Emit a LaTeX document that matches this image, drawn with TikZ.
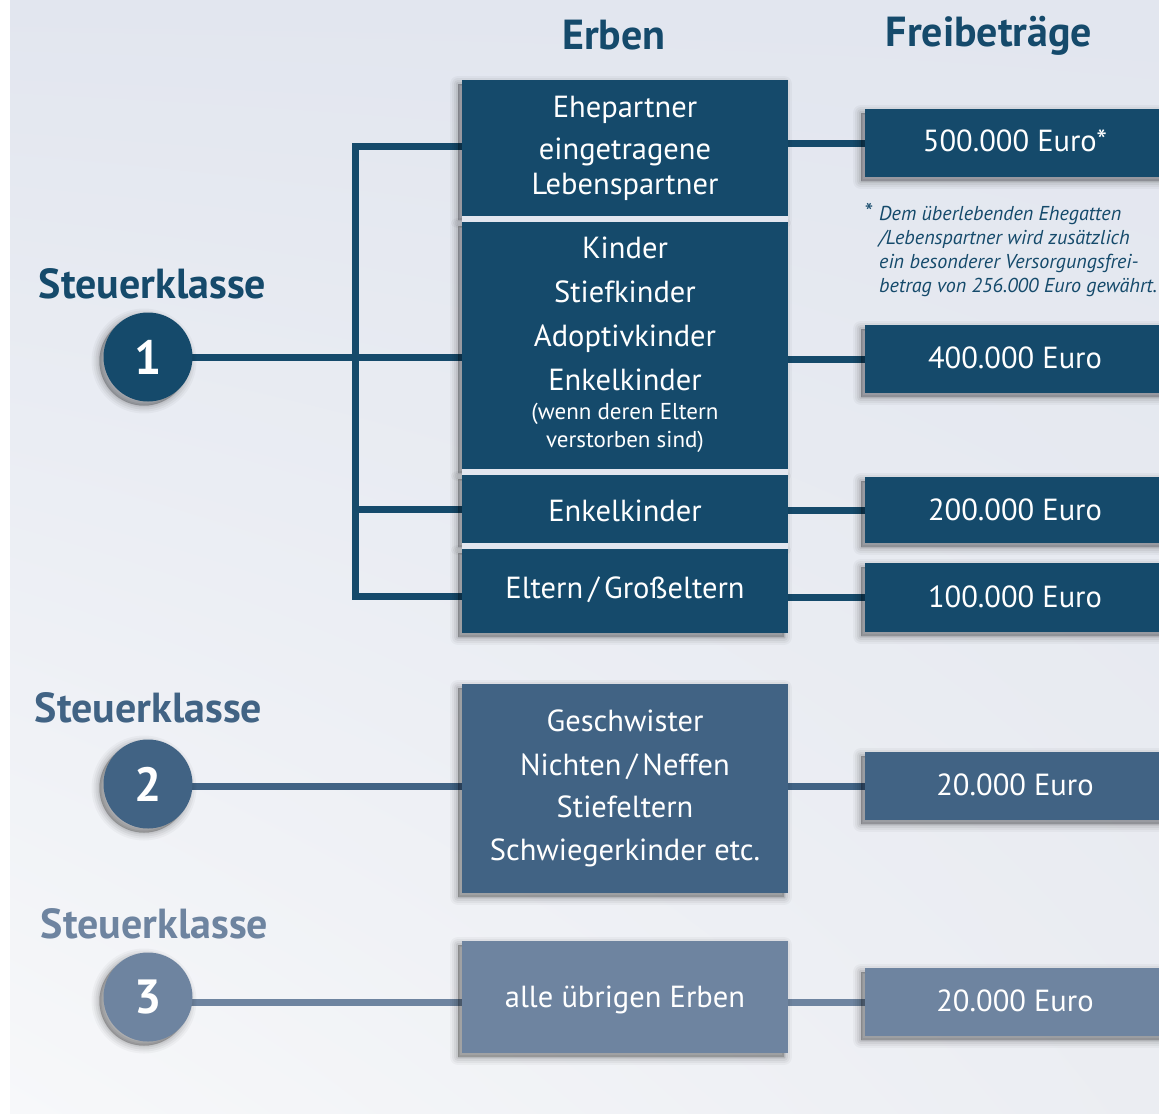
\documentclass[tikz,border=0pt]{standalone}
\usepackage{fontspec}
\setmainfont{PT Sans}
\usetikzlibrary{calc,shadings,backgrounds}
\definecolor{cA}{HTML}{154A6B}
\definecolor{cB}{HTML}{416384}
\definecolor{cC}{HTML}{6E84A0}
\definecolor{bgT}{HTML}{E2E6EF}
\definecolor{bgL}{HTML}{F7F8FA}
\definecolor{bgR}{HTML}{EBEDF2}
\pgfdeclarelayer{bottom}
\pgfsetlayers{bottom,background,main}
\begin{document}
\begin{tikzpicture}[x=1pt,y=-1pt,
  shlayer/.style n args={2}{preaction={fill=black,fill opacity=#1,draw=black,draw opacity=#1,line width=#2,line join=round,transform canvas={shift={(-4pt,-4pt)}}}},
  shad/.style={shlayer={.03}{16pt},shlayer={.04}{12pt},shlayer={.05}{8pt},shlayer={.06}{4pt},shlayer={.08}{1pt}},
  conn/.style={line width=7pt,draw=#1},
  erbe/.style={fill=#1,text=white,inner sep=0pt,align=center,minimum width=326pt,text depth=0pt,font=\fontsize{30.5}{44}\selectfont,shad},
  frei/.style={fill=#1,text=white,inner sep=0pt,minimum width=300pt,minimum height=68pt,text depth=0pt,font=\fontsize{30.5}{33}\selectfont,shad},
  kreis/.style={circle,fill=#1,text=white,minimum size=89pt,inner sep=0pt,font=\bfseries\fontsize{48}{50}\selectfont,shad},
  klasse/.style={text=#1,font=\bfseries\fontsize{42}{46}\selectfont,inner sep=0pt},
  kopf/.style={text=cA,font=\bfseries\fontsize{42}{46}\selectfont,inner sep=0pt}
]
\useasboundingbox (0,0) rectangle (1159,1114);
\begin{pgfonlayer}{bottom}
\fill[white] (0,0) rectangle (1159,1114);
\shade[upper left=bgT,upper right=bgT,lower left=bgL,lower right=bgR] (10,0) rectangle (1159,1113);
\end{pgfonlayer}

% headings
\node[kopf] (h1) at (614,35) {Erben};
\node[kopf] (h2) at (989,36) {Freibeträge};

% class labels
\node[klasse=cA] (s1) at (152.5,284) {Steuerklasse};
\node[klasse=cB] (s2) at (148.5,708) {Steuerklasse};
\node[klasse=cC] (s3) at (154.5,924) {Steuerklasse};

\coordinate (j1) at (355,357);
\coordinate (jt) at (355,146);
\coordinate (jb) at (355,596);

% Erben boxes
\node[erbe=cA,minimum height=136pt,text height=92pt] (eA) at (625,148) {Ehepartner\\[-2pt]eingetragene\\[-9pt]Lebenspartner};
\node[erbe=cA,minimum height=247pt,text height=203pt] (eB) at (625,345.5) {Kinder\\Stiefkinder\\Adoptivkinder\\Enkelkinder\\[-15pt]{\fontsize{23}{28}\selectfont(wenn deren Eltern}\\[-16pt]{\fontsize{23}{28}\selectfont verstorben sind)}};
\node[erbe=cA,minimum height=68pt,text height=24pt] (eC) at (625,509) {Enkelkinder};
\node[erbe=cA,minimum height=84pt,text height=14pt] (eD) at (625,591) {Eltern\,/\,Großeltern};
\fill[bgT] (462,216) rectangle (788,222);
\fill[bgT] (462,469) rectangle (788,475);
\fill[bgT] (462,543) rectangle (788,549);
\node[erbe=cB,minimum height=209pt,text height=143pt] (eE) at (625,788.5) {Geschwister\\Nichten\,/\,Neffen\\[-2pt]Stiefeltern\\[-1pt]Schwiegerkinder etc.};
\node[erbe=cC,minimum height=112pt,text height=20pt] (eF) at (625,997) {alle übrigen Erben};

% Freibetrag boxes
\node[frei=cA,text height=16pt] (f1) at (1015,143) {500.000 Euro*};
\node[frei=cA,text height=18pt] (f2) at (1015,359) {400.000 Euro};
\node[frei=cA,minimum height=66pt,text height=20pt] (f3) at (1015,510) {200.000 Euro};
\node[frei=cA,minimum height=69pt,text height=19pt] (f4) at (1015,597.5) {100.000 Euro};
\node[frei=cB,text height=18pt] (f5) at (1015,786) {20.000 Euro};
\node[frei=cC,text height=18pt] (f6) at (1015,1002) {20.000 Euro};

\node[text=cA,anchor=north west,align=left,inner sep=0pt,font=\itshape\fontsize{20.1}{24}\selectfont] (fn) at (864,203)
 {\makebox[15pt][l]{\fontsize{24}{24}\selectfont*}Dem überlebenden Ehegatten\\\hspace*{15pt}/Lebenspartner wird zusätzlich\\\hspace*{15pt}ein besonderer Versorgungsfrei-\\\hspace*{15pt}betrag von 256.000 Euro gewährt.};

% circles
\node[kreis=cA] (k1) at (148,357) {1};
\node[kreis=cB] (k2) at (148,784) {2};
\node[kreis=cC] (k3) at (148,997) {3};

% connectors
\begin{scope}[on background layer]
\draw[conn=cA] (k1.center) -- (j1) -- (j1 -| eB.center);
\draw[conn=cA,line join=miter] (jt -| eA.center) -- (jt) -- (jb) -- (jb -| eD.center);
\draw[conn=cA] (jt |- eC.center) -- (eC.center);
\draw[conn=cA] (f1.center -| eA.center) -- (f1.center);
\draw[conn=cA] (f2.center -| eB.center) -- (f2.center);
\draw[conn=cA] (f3.center -| eC.center) -- (f3.center);
\draw[conn=cA] (f4.center -| eD.center) -- (f4.center);
\draw[conn=cB] (k2.center) -- (f5.center -| k2.center) -- (f5.center);
\draw[conn=cC] (k3.center) -- (f6.center -| k3.center) -- (f6.center);
\end{scope}
\end{tikzpicture}
\end{document}
